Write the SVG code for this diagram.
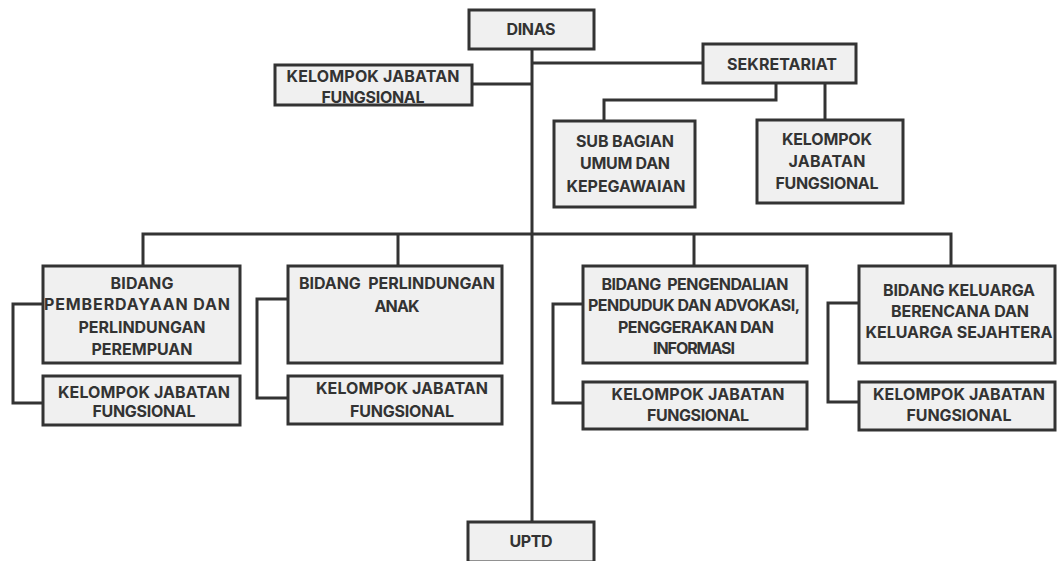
<svg xmlns="http://www.w3.org/2000/svg" width="1057" height="561" viewBox="0 0 1057 561">
<style>
.box{fill:#f0f0f0;stroke:#333;stroke-width:3}
.ln{fill:none;stroke:#333;stroke-width:3}
text{font-family:Inter,Roboto,sans-serif;font-weight:700;font-size:16px;fill:#333;text-anchor:middle}
</style>
<rect width="1057" height="561" fill="#fff"/>
<g id="connectors">
<path class="ln" d="M532,49 V522"/>
<path class="ln" d="M532,63 H703"/>
<path class="ln" d="M472,84 H532"/>
<path class="ln" d="M776,83 V100 H604 V121"/>
<path class="ln" d="M825,83 V120"/>
<path class="ln" d="M143,266 V234 H951 V266"/>
<path class="ln" d="M398,234 V266"/>
<path class="ln" d="M694,234 V266"/>
<path class="ln" d="M43,304 H13 V403 H43"/>
<path class="ln" d="M288,299 H257 V398 H288"/>
<path class="ln" d="M583,304 H553 V403 H583"/>
<path class="ln" d="M859,303 H828 V402 H859"/>
</g>
<g id="dinas"><rect class="box" x="469" y="10" width="125" height="39"/><text x="531" y="35" textLength="49">DINAS</text></g>
<g id="kjf-top"><rect class="box" x="275" y="65" width="197" height="40"/><text x="373" y="81.5" textLength="173">KELOMPOK JABATAN</text><text x="373" y="102.5" textLength="103">FUNGSIONAL</text></g>
<g id="sekretariat"><rect class="box" x="703" y="44" width="153" height="39"/><text x="782" y="69.5" textLength="110">SEKRETARIAT</text></g>
<g id="subbagian"><rect class="box" x="554" y="121" width="141" height="86"/><text x="625" y="146.5" textLength="98">SUB BAGIAN</text><text x="625" y="168.5" textLength="90">UMUM DAN</text><text x="626" y="191.5" textLength="119">KEPEGAWAIAN</text></g>
<g id="kjf-sekr"><rect class="box" x="757" y="120" width="146" height="83"/><text x="827" y="144.5" textLength="90">KELOMPOK</text><text x="827" y="167" textLength="77">JABATAN</text><text x="827" y="188.5" textLength="103">FUNGSIONAL</text></g>
<g id="bidang1"><rect class="box" x="43" y="266" width="197" height="97"/><text x="142" y="288.5" textLength="63">BIDANG</text><text x="137" y="310" textLength="186">PEMBERDAYAAN DAN</text><text x="142" y="332.5" textLength="127">PERLINDUNGAN</text><text x="142" y="354.5" textLength="101">PEREMPUAN</text></g>
<g id="kjf1"><rect class="box" x="43" y="376" width="197" height="49"/><text x="144" y="397.5" textLength="172">KELOMPOK JABATAN</text><text x="144" y="416.5" textLength="103">FUNGSIONAL</text></g>
<g id="bidang2"><rect class="box" x="288" y="266" width="214" height="97"/><text x="397" y="288.5" textLength="196" xml:space="preserve">BIDANG  PERLINDUNGAN</text><text x="397" y="311.5" textLength="45">ANAK</text></g>
<g id="kjf2"><rect class="box" x="288" y="376" width="214" height="48"/><text x="402" y="393.5" textLength="172">KELOMPOK JABATAN</text><text x="402" y="416.5" textLength="104">FUNGSIONAL</text></g>
<g id="bidang3"><rect class="box" x="583" y="266" width="224" height="97"/><text x="695" y="289.5" textLength="187" xml:space="preserve">BIDANG  PENGENDALIAN</text><text x="694" y="310.5" textLength="212">PENDUDUK DAN ADVOKASI,</text><text x="696" y="332.5" textLength="156">PENGGERAKAN DAN</text><text x="694" y="353.5" textLength="82">INFORMASI</text></g>
<g id="kjf3"><rect class="box" x="583" y="382" width="224" height="47"/><text x="698" y="399.5" textLength="173">KELOMPOK JABATAN</text><text x="698" y="420.5" textLength="102">FUNGSIONAL</text></g>
<g id="bidang4"><rect class="box" x="859" y="266" width="196" height="97"/><text x="959" y="295.5" textLength="152">BIDANG KELUARGA</text><text x="960" y="316.5" textLength="138">BERENCANA DAN</text><text x="959" y="337.5" textLength="187">KELUARGA SEJAHTERA</text></g>
<g id="kjf4"><rect class="box" x="859" y="382" width="196" height="48"/><text x="959" y="399.5" textLength="172">KELOMPOK JABATAN</text><text x="959" y="420.5" textLength="105">FUNGSIONAL</text></g>
<g id="uptd"><rect class="box" x="468" y="522" width="126" height="40"/><text x="531" y="546.5" textLength="43">UPTD</text></g>
</svg>
